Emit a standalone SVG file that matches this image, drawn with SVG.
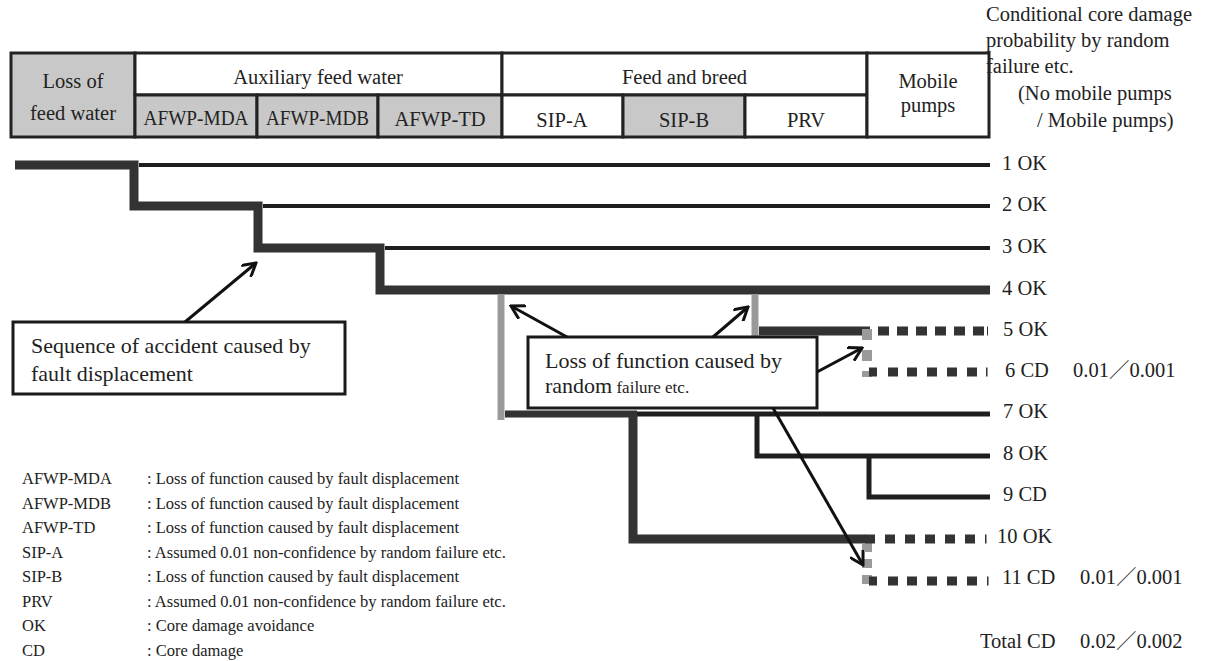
<svg xmlns="http://www.w3.org/2000/svg" width="1216" height="661" viewBox="0 0 1216 661">
<style>
.t{font-family:'Liberation Serif',serif}
.cjk{font-family:'Noto Sans CJK JP',sans-serif}
text{fill:#222}
.h{font-size:20.5px;text-anchor:middle}
.cell{stroke:#222;stroke-width:3}
.g{fill:#c8c8c8}
.w{fill:#fff}
.thick{fill:none;stroke:#333;stroke-width:9;stroke-linejoin:miter}
.mid{fill:none;stroke:#333;stroke-width:7}
.thin{fill:none;stroke:#1e1e1e;stroke-width:5}
.thin4{fill:none;stroke:#1e1e1e;stroke-width:4}
.grey{fill:none;stroke:#9a9a9a;stroke-width:7}
.dot{fill:none;stroke:#333;stroke-width:9}
.gdot{fill:none;stroke:#9a9a9a;stroke-width:10}
.lbl{font-size:20.5px}
.leg{font-size:16.5px}
.box{fill:#fff;stroke:#1a1a1a;stroke-width:3}
.big{font-size:22px}
.arr{fill:none;stroke:#111;stroke-width:3;marker-end:url(#ah)}
</style>
<defs>
<marker id="ah" viewBox="0 0 16 16" refX="14" refY="8" markerWidth="16" markerHeight="16" markerUnits="userSpaceOnUse" orient="auto">
<path d="M1,0.5 L14,8 L1,15.5" fill="none" stroke="#111" stroke-width="3"/>
</marker>
</defs>
<rect width="1216" height="661" fill="#fff"/>
<g class="t" font-family="Liberation Serif, serif">

<g id="header">
<g id="h-loss"><rect class="cell g" x="11" y="53" width="124" height="84"/><text class="h" x="73" y="88">Loss of</text><text class="h" x="73" y="120">feed water</text></g>
<g id="h-afw"><rect class="cell w" x="135" y="53" width="367" height="42"/><text class="h" x="318" y="84">Auxiliary feed water</text></g>
<g id="h-mda"><rect class="cell g" x="135" y="95" width="122" height="42"/><text class="h" x="196" y="125" textLength="105" lengthAdjust="spacingAndGlyphs">AFWP-MDA</text></g>
<g id="h-mdb"><rect class="cell g" x="257" y="95" width="121" height="42"/><text class="h" x="317.5" y="125" textLength="103" lengthAdjust="spacingAndGlyphs">AFWP-MDB</text></g>
<g id="h-td"><rect class="cell g" x="378" y="95" width="124" height="42"/><text class="h" x="440" y="126">AFWP-TD</text></g>
<g id="h-fb"><rect class="cell w" x="502" y="53" width="365" height="42"/><text class="h" x="684.5" y="84">Feed and breed</text></g>
<g id="h-sipa"><rect class="cell w" x="502" y="95" width="121" height="42"/><text class="h" x="562" y="127">SIP-A</text></g>
<g id="h-sipb"><rect class="cell g" x="623" y="95" width="122" height="42"/><text class="h" x="684" y="127">SIP-B</text></g>
<g id="h-prv"><rect class="cell w" x="745" y="95" width="122" height="42"/><text class="h" x="806" y="127">PRV</text></g>
<g id="h-mob"><rect class="cell w" x="867" y="53" width="122" height="84"/><text class="h" x="928" y="88">Mobile</text><text class="h" x="928" y="112">pumps</text></g>
</g>

<g id="ccdp-title" class="lbl">
<text x="986" y="21">Conditional core damage</text>
<text x="986" y="47">probability by random</text>
<text x="986" y="73">failure etc.</text>
<text x="1018" y="100">(No mobile pumps</text>
<text x="1037" y="127">/ Mobile pumps)</text>
</g>

<g id="connectors">
<path class="thick" d="M15,165 H134 V206 H258 V248 H380 V290 H990"/>
<path class="thin4" d="M139,165 H990"/>
<path class="thin4" d="M263,206 H990"/>
<path class="thin4" d="M385,248 H990"/>
<path class="grey" d="M501,294 V420"/>
<path class="grey" d="M755,294 V336"/>
<path class="thick" d="M759,331 H870"/>
<path class="mid" d="M505,414 H637"/>
<path class="thin" d="M637,414 H990"/>
<path class="thin" d="M757,414 V456 H990"/>
<path class="thin" d="M869,456 V497 H990"/>
<path class="thick" d="M633,414 V539 H866"/>
<path class="gdot" d="M867,329 V377" stroke-dasharray="11 10"/>
<path class="gdot" d="M867,543 V586" stroke-dasharray="9 7"/>
<path class="dot" d="M878,331 H988" stroke-dasharray="11 8 11 8 11 8 11 8 11 8 11 3 1.5 100"/>
<path class="dot" d="M869,372 H988" stroke-dasharray="8 11 10 9 10 10 10 10 10 10 10 9 1.5 100"/>
<path class="dot" d="M865,539 H988" stroke-dasharray="10 10 10 10 10 10 10 10 10 10 10 10 1.5 100"/>
<path class="dot" d="M869,581 H989" stroke-dasharray="8 11 10 9 10 10 10 10 10 10 10 10 1.5 100"/>
</g>

<g id="outcomes" class="lbl">
<text x="1002" y="170">1 OK</text>
<text x="1002" y="211">2 OK</text>
<text x="1002" y="253">3 OK</text>
<text x="1002" y="295">4 OK</text>
<text x="1003" y="336">5 OK</text>
<text x="1005" y="377">6 CD</text>
<text x="1073" y="377">0.01<tspan class="cjk" font-family="Noto Sans CJK JP, sans-serif">／</tspan>0.001</text>
<text x="1003" y="418">7 OK</text>
<text x="1003" y="460">8 OK</text>
<text x="1003" y="501">9 CD</text>
<text x="997" y="543">10 OK</text>
<text x="1002" y="584">11 CD</text>
<text x="1080" y="584">0.01<tspan class="cjk" font-family="Noto Sans CJK JP, sans-serif">／</tspan>0.001</text>
<text x="980" y="648">Total CD</text>
<text x="1080" y="648">0.02<tspan class="cjk" font-family="Noto Sans CJK JP, sans-serif">／</tspan>0.002</text>
</g>

<g id="callout-fault">
<rect class="box" x="13" y="322" width="332" height="72"/>
<text class="big" x="31" y="353">Sequence of accident caused by</text>
<text class="big" x="31" y="381">fault displacement</text>
</g>
<g id="callout-random">
<rect class="box" x="528" y="337" width="289" height="71"/>
<text class="big" x="545" y="368">Loss of function caused by</text>
<text x="545" y="393"><tspan class="big">random</tspan><tspan style="font-size:17px"> failure etc.</tspan></text>
</g>

<g id="arrows">
<path class="arr" d="M185,322 L256,263"/>
<path class="arr" d="M567,337 L511,306"/>
<path class="arr" d="M713,337 L748,307"/>
<path class="arr" d="M817,372 L862,348"/>
<path class="arr" d="M773,408 L863,565"/>
</g>

<g id="legend" class="leg">
<text x="22" y="484">AFWP-MDA</text><text x="147" y="484">: Loss of function caused by fault displacement</text>
<text x="22" y="508.5">AFWP-MDB</text><text x="147" y="508.5">: Loss of function caused by fault displacement</text>
<text x="22" y="533">AFWP-TD</text><text x="147" y="533">: Loss of function caused by fault displacement</text>
<text x="22" y="557.5">SIP-A</text><text x="147" y="557.5">: Assumed 0.01 non-confidence by random failure etc.</text>
<text x="22" y="582">SIP-B</text><text x="147" y="582">: Loss of function caused by fault displacement</text>
<text x="22" y="606.5">PRV</text><text x="147" y="606.5">: Assumed 0.01 non-confidence by random failure etc.</text>
<text x="22" y="631">OK</text><text x="147" y="631">: Core damage avoidance</text>
<text x="22" y="655.5">CD</text><text x="147" y="655.5">: Core damage</text>
</g>
</g>
</svg>
